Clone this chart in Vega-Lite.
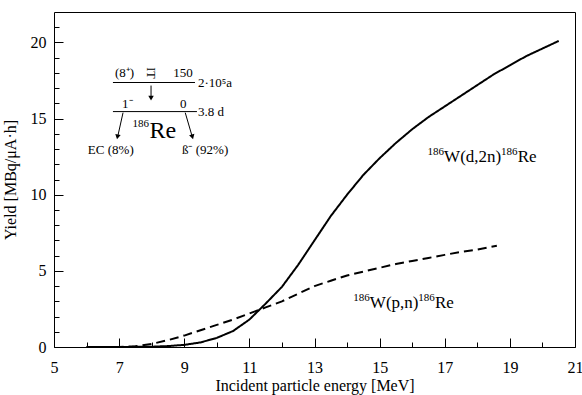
{
  "$schema": "https://vega.github.io/schema/vega-lite/v6.json",
  "width": 521,
  "height": 335,
  "autosize": {"type": "none"},
  "padding": {"left": 54, "top": 12, "right": 7, "bottom": 48},
  "background": "white",
  "config": {
    "view": {"stroke": "black", "strokeWidth": 1},
    "font": "Liberation Serif",
    "axis": {"labelOverlap": false, "zindex": 1},
    "text": {"font": "Liberation Serif", "color": "black", "align": "left", "baseline": "alphabetic"}
  },
  "datasets": {
    "curves": [
      {"reaction": "d2n", "x": 6.0, "y": 0.0},
      {"reaction": "d2n", "x": 7.0, "y": 0.0},
      {"reaction": "d2n", "x": 8.0, "y": 0.02},
      {"reaction": "d2n", "x": 8.5, "y": 0.06},
      {"reaction": "d2n", "x": 9.0, "y": 0.14},
      {"reaction": "d2n", "x": 9.5, "y": 0.3},
      {"reaction": "d2n", "x": 10.0, "y": 0.6},
      {"reaction": "d2n", "x": 10.5, "y": 1.05},
      {"reaction": "d2n", "x": 11.0, "y": 1.8},
      {"reaction": "d2n", "x": 11.5, "y": 2.85},
      {"reaction": "d2n", "x": 12.0, "y": 3.95},
      {"reaction": "d2n", "x": 12.5, "y": 5.4},
      {"reaction": "d2n", "x": 13.0, "y": 7.0},
      {"reaction": "d2n", "x": 13.5, "y": 8.6},
      {"reaction": "d2n", "x": 14.0, "y": 10.0},
      {"reaction": "d2n", "x": 14.5, "y": 11.3},
      {"reaction": "d2n", "x": 15.0, "y": 12.4},
      {"reaction": "d2n", "x": 15.5, "y": 13.4},
      {"reaction": "d2n", "x": 16.0, "y": 14.3},
      {"reaction": "d2n", "x": 16.5, "y": 15.1},
      {"reaction": "d2n", "x": 17.0, "y": 15.8},
      {"reaction": "d2n", "x": 17.5, "y": 16.5},
      {"reaction": "d2n", "x": 18.0, "y": 17.2},
      {"reaction": "d2n", "x": 18.5, "y": 17.9},
      {"reaction": "d2n", "x": 19.0, "y": 18.5},
      {"reaction": "d2n", "x": 19.5, "y": 19.1},
      {"reaction": "d2n", "x": 20.0, "y": 19.6},
      {"reaction": "d2n", "x": 20.5, "y": 20.1},
      {"reaction": "pn", "x": 6.0, "y": 0.0},
      {"reaction": "pn", "x": 7.0, "y": 0.0},
      {"reaction": "pn", "x": 7.5, "y": 0.05},
      {"reaction": "pn", "x": 8.0, "y": 0.2},
      {"reaction": "pn", "x": 8.5, "y": 0.45},
      {"reaction": "pn", "x": 9.0, "y": 0.75},
      {"reaction": "pn", "x": 9.5, "y": 1.1},
      {"reaction": "pn", "x": 10.0, "y": 1.45},
      {"reaction": "pn", "x": 10.5, "y": 1.8},
      {"reaction": "pn", "x": 11.0, "y": 2.2},
      {"reaction": "pn", "x": 11.5, "y": 2.6},
      {"reaction": "pn", "x": 12.0, "y": 3.0},
      {"reaction": "pn", "x": 12.5, "y": 3.5},
      {"reaction": "pn", "x": 13.0, "y": 4.0},
      {"reaction": "pn", "x": 13.5, "y": 4.35},
      {"reaction": "pn", "x": 14.0, "y": 4.7},
      {"reaction": "pn", "x": 14.5, "y": 4.95},
      {"reaction": "pn", "x": 15.0, "y": 5.2},
      {"reaction": "pn", "x": 15.5, "y": 5.45},
      {"reaction": "pn", "x": 16.0, "y": 5.65},
      {"reaction": "pn", "x": 16.5, "y": 5.85},
      {"reaction": "pn", "x": 17.0, "y": 6.05},
      {"reaction": "pn", "x": 17.5, "y": 6.25},
      {"reaction": "pn", "x": 18.0, "y": 6.4},
      {"reaction": "pn", "x": 18.6, "y": 6.65}
    ],
    "rules": [
      {"x": 6.81, "x2": 9.33, "y": 17.37, "y2": 17.37},
      {"x": 6.81, "x2": 9.39, "y": 15.46, "y2": 15.46},
      {"x": 7.98, "x2": 7.98, "y": 17.17, "y2": 16.4},
      {"x": 7.12, "x2": 6.96, "y": 15.39, "y2": 13.85},
      {"x": 9.03, "x2": 9.24, "y": 15.39, "y2": 13.85}
    ],
    "heads": [
      {"name": "it", "x": 7.98, "y": 16.35},
      {"name": "ec", "x": 6.95, "y": 13.8},
      {"name": "beta", "x": 9.25, "y": 13.8}
    ],
    "insetText": [
      {"t": "(8⁺)", "x": 6.87, "y": 17.7},
      {"t": "150", "x": 8.66, "y": 17.76},
      {"t": "2·10⁵a", "x": 9.42, "y": 17.07},
      {"t": "1⁻", "x": 7.09, "y": 15.72},
      {"t": "0", "x": 8.87, "y": 15.72},
      {"t": "3.8 d", "x": 9.42, "y": 15.16},
      {"t": "EC (8%)", "x": 6.04, "y": 12.7},
      {"t": "ß⁻ (92%)", "x": 8.93, "y": 12.7}
    ],
    "itText": [{"t": "IT", "x": 7.98, "y": 18.0}],
    "bigText": [{"t": "Re", "x": 7.93, "y": 13.75}],
    "supText": [
      {"t": "186", "x": 7.41, "y": 14.47},
      {"t": "186", "x": 16.47, "y": 12.64},
      {"t": "186", "x": 18.73, "y": 12.64},
      {"t": "186", "x": 14.19, "y": 3.0},
      {"t": "186", "x": 16.19, "y": 3.0}
    ],
    "curveText": [
      {"t": "W(d,2n)", "x": 16.98, "y": 12.17},
      {"t": "Re", "x": 19.24, "y": 12.17},
      {"t": "W(p,n)", "x": 14.7, "y": 2.53},
      {"t": "Re", "x": 16.7, "y": 2.53}
    ]
  },
  "resolve": {"scale": {"x": "independent", "y": "independent"}},
  "layer": [
    {
      "layer": [
        {
          "data": {"name": "curves"},
          "mark": {"type": "line", "color": "black", "strokeWidth": 2},
          "encoding": {
            "x": {
              "field": "x", "type": "quantitative",
              "scale": {"domain": [5, 21], "nice": false, "zero": false},
              "axis": {
                "title": "Incident particle energy  [MeV]",
                "values": [5, 7, 9, 11, 13, 15, 17, 19, 21],
                "offset": -9, "tickSize": 9, "domain": false, "zindex": 1,
                "tickColor": "black", "labelColor": "black", "titleColor": "black",
                "labelFont": "Liberation Serif", "titleFont": "Liberation Serif",
                "labelFontSize": 16, "titleFontSize": 16, "titleFontWeight": "normal",
                "labelPadding": 12, "titlePadding": 2, "labelOverlap": false, "labelFlush": false, "grid": false
              }
            },
            "y": {
              "field": "y", "type": "quantitative",
              "scale": {"domain": [0, 22], "nice": false},
              "axis": {
                "title": "Yield  [MBq/μA·h]",
                "values": [0, 5, 10, 15, 20],
                "offset": -9, "tickSize": 9, "domain": false, "zindex": 1,
                "tickColor": "black", "labelColor": "black", "titleColor": "black",
                "labelFont": "Liberation Serif", "titleFont": "Liberation Serif",
                "labelFontSize": 16, "titleFontSize": 16, "titleFontWeight": "normal",
                "labelPadding": 8, "titlePadding": 12, "labelOverlap": false, "labelFlush": false, "grid": false
              }
            },
            "strokeDash": {
              "field": "reaction", "type": "nominal",
              "scale": {"domain": ["d2n", "pn"], "range": [[1, 0], [9, 5]]},
              "legend": null
            }
          }
        },
        {
          "data": {"name": "heads"},
          "transform": [{"filter": "datum.name == 'it'"}],
          "mark": {"type": "point", "shape": "triangle-down", "filled": true, "color": "black", "size": 30, "opacity": 1},
          "encoding": {"x": {"field": "x", "type": "quantitative"}, "y": {"field": "y", "type": "quantitative"}}
        },
        {
          "data": {"name": "heads"},
          "transform": [{"filter": "datum.name == 'ec'"}],
          "mark": {"type": "point", "shape": "triangle-down", "filled": true, "color": "black", "size": 30, "opacity": 1, "angle": 12},
          "encoding": {"x": {"field": "x", "type": "quantitative"}, "y": {"field": "y", "type": "quantitative"}}
        },
        {
          "data": {"name": "heads"},
          "transform": [{"filter": "datum.name == 'beta'"}],
          "mark": {"type": "point", "shape": "triangle-down", "filled": true, "color": "black", "size": 30, "opacity": 1, "angle": 344},
          "encoding": {"x": {"field": "x", "type": "quantitative"}, "y": {"field": "y", "type": "quantitative"}}
        },
        {
          "data": {"name": "insetText"},
          "mark": {"type": "text", "fontSize": 13},
          "encoding": {"x": {"field": "x", "type": "quantitative"}, "y": {"field": "y", "type": "quantitative"}, "text": {"field": "t"}}
        },
        {
          "data": {"name": "itText"},
          "mark": {"type": "text", "fontSize": 12, "angle": 90, "align": "center", "baseline": "middle"},
          "encoding": {"x": {"field": "x", "type": "quantitative"}, "y": {"field": "y", "type": "quantitative"}, "text": {"field": "t"}}
        },
        {
          "data": {"name": "bigText"},
          "mark": {"type": "text", "fontSize": 24},
          "encoding": {"x": {"field": "x", "type": "quantitative"}, "y": {"field": "y", "type": "quantitative"}, "text": {"field": "t"}}
        },
        {
          "data": {"name": "supText"},
          "mark": {"type": "text", "fontSize": 11},
          "encoding": {"x": {"field": "x", "type": "quantitative"}, "y": {"field": "y", "type": "quantitative"}, "text": {"field": "t"}}
        },
        {
          "data": {"name": "curveText"},
          "mark": {"type": "text", "fontSize": 17},
          "encoding": {"x": {"field": "x", "type": "quantitative"}, "y": {"field": "y", "type": "quantitative"}, "text": {"field": "t"}}
        }
      ]
    },
    {
      "data": {"name": "rules"},
      "mark": {"type": "rule", "color": "black", "strokeWidth": 1},
      "encoding": {
        "x": {
          "field": "x", "type": "quantitative",
          "scale": {"domain": [5, 21], "nice": false, "zero": false},
          "axis": {
            "orient": "bottom", "title": null, "labels": false, "domain": false, "grid": false, "zindex": 1,
            "values": [6, 8, 10, 12, 14, 16, 18, 20],
            "offset": -5, "tickSize": 5, "tickColor": "black"
          }
        },
        "x2": {"field": "x2"},
        "y": {
          "field": "y", "type": "quantitative",
          "scale": {"domain": [0, 22], "nice": false},
          "axis": {
            "orient": "left", "title": null, "labels": false, "domain": false, "grid": false, "zindex": 1,
            "values": [1, 2, 3, 4, 6, 7, 8, 9, 11, 12, 13, 14, 16, 17, 18, 19, 21],
            "offset": -5, "tickSize": 5, "tickColor": "black"
          }
        },
        "y2": {"field": "y2"}
      }
    }
  ]
}
